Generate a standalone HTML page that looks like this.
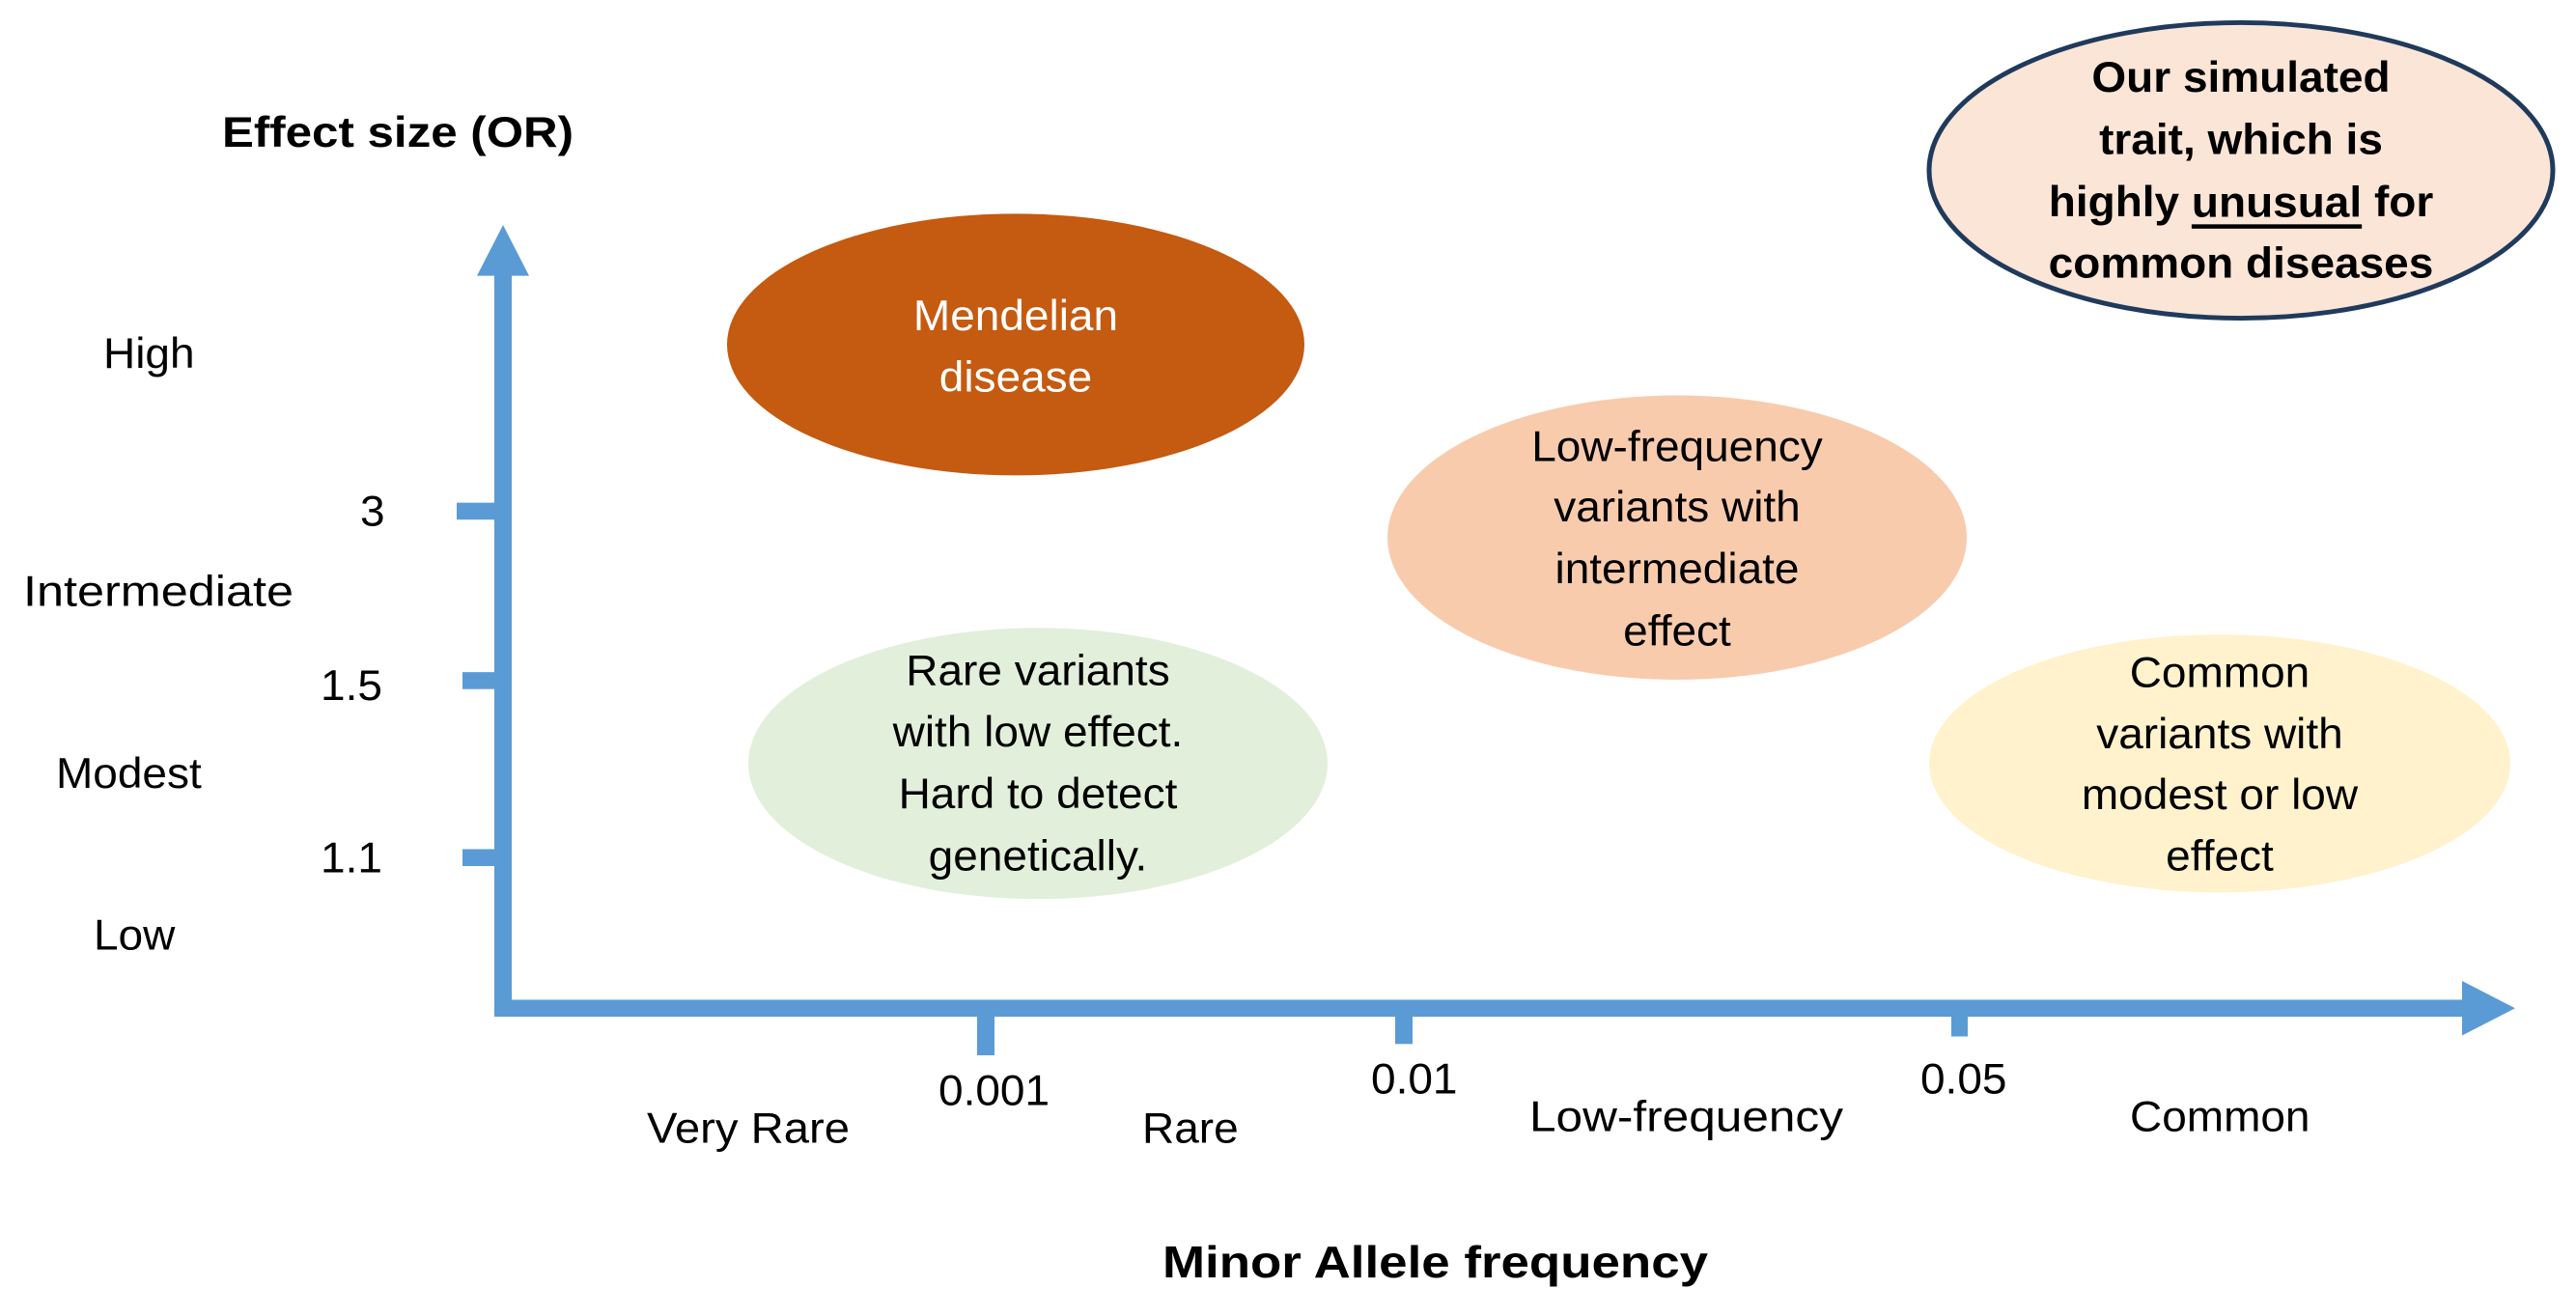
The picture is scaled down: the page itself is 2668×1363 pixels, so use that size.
<!DOCTYPE html>
<html><head><meta charset="utf-8"><style>
html,body{margin:0;padding:0;background:#fff;}
svg{display:block;}
text{font-family:"Liberation Sans",sans-serif;font-size:46px;fill:#000;dominant-baseline:central;}
.b{font-weight:bold;}
.m{text-anchor:middle;}
</style></head><body>
<svg width="2668" height="1363" viewBox="0 0 2668 1363" xmlns="http://www.w3.org/2000/svg">
<rect width="2668" height="1363" fill="#fff"/>
<text class="b" x="1204" y="1307" textLength="565" lengthAdjust="spacingAndGlyphs">Minor Allele frequency</text>
<g transform="scale(1,0.975)">
<!-- axes -->
<g fill="#5B9BD5">
<rect x="512" y="290" width="18" height="790"/>
<polygon points="521,239 494,293 548,293"/>
<rect x="512" y="1062" width="2042" height="18"/>
<polygon points="2605,1071 2550,1042 2550,1100"/>
<rect x="473" y="534" width="40" height="18"/>
<rect x="479" y="714" width="34" height="18"/>
<rect x="479" y="902" width="34" height="18"/>
<rect x="1012" y="1080" width="18" height="41"/>
<rect x="1445" y="1080" width="18" height="29"/>
<rect x="2021" y="1080" width="17" height="21"/>
</g>
<!-- ellipses -->
<ellipse cx="1052" cy="366" rx="299" ry="139" fill="#C55A11"/>
<ellipse cx="1075" cy="811" rx="300" ry="144" fill="#E2EFDA"/>
<ellipse cx="1737" cy="571" rx="300" ry="151" fill="#F8CBAD"/>
<ellipse cx="2299" cy="811" rx="301" ry="137" fill="#FFF2CC"/>
<ellipse cx="2321" cy="181" rx="323" ry="157" fill="#FBE5D6" stroke="#1F3A5C" stroke-width="5"/>
<!-- axis labels -->
<text class="b" x="230" y="140" textLength="364" lengthAdjust="spacingAndGlyphs">Effect size (OR)</text>
<text x="107" y="375">High</text>
<text x="373" y="543">3</text>
<text x="24" y="628" textLength="280" lengthAdjust="spacingAndGlyphs">Intermediate</text>
<text x="332" y="728">1.5</text>
<text x="58" y="821">Modest</text>
<text x="332" y="911">1.1</text>
<text x="97" y="993">Low</text>
<text x="670" y="1198" textLength="210" lengthAdjust="spacingAndGlyphs">Very Rare</text>
<text x="972" y="1158">0.001</text>
<text x="1183" y="1198">Rare</text>
<text x="1420" y="1146">0.01</text>
<text x="1584" y="1186" textLength="325" lengthAdjust="spacingAndGlyphs">Low-frequency</text>
<text x="1989" y="1146">0.05</text>
<text x="2206" y="1186">Common</text>
<!-- ellipse texts -->
<text class="m" x="1052" y="335" style="fill:#fff">Mendelian</text>
<text class="m" x="1052" y="400" style="fill:#fff">disease</text>
<text class="m" x="1075" y="712">Rare variants</text>
<text class="m" x="1075" y="777">with low effect.</text>
<text class="m" x="1075" y="843">Hard to detect</text>
<text class="m" x="1075" y="909">genetically.</text>
<text class="m" x="1737" y="474">Low-frequency</text>
<text class="m" x="1737" y="538">variants with</text>
<text class="m" x="1737" y="604">intermediate</text>
<text class="m" x="1737" y="670">effect</text>
<text class="m" x="2299" y="714">Common</text>
<text class="m" x="2299" y="779">variants with</text>
<text class="m" x="2299" y="844">modest or low</text>
<text class="m" x="2299" y="909">effect</text>
<text class="m b" x="2321" y="82">Our simulated</text>
<text class="m b" x="2321" y="148">trait, which is</text>
<text class="m b" x="2321" y="214">highly <tspan text-decoration="underline">unusual</tspan> for</text>
<text class="m b" x="2321" y="279">common diseases</text>
</g>
</svg>
</body></html>
